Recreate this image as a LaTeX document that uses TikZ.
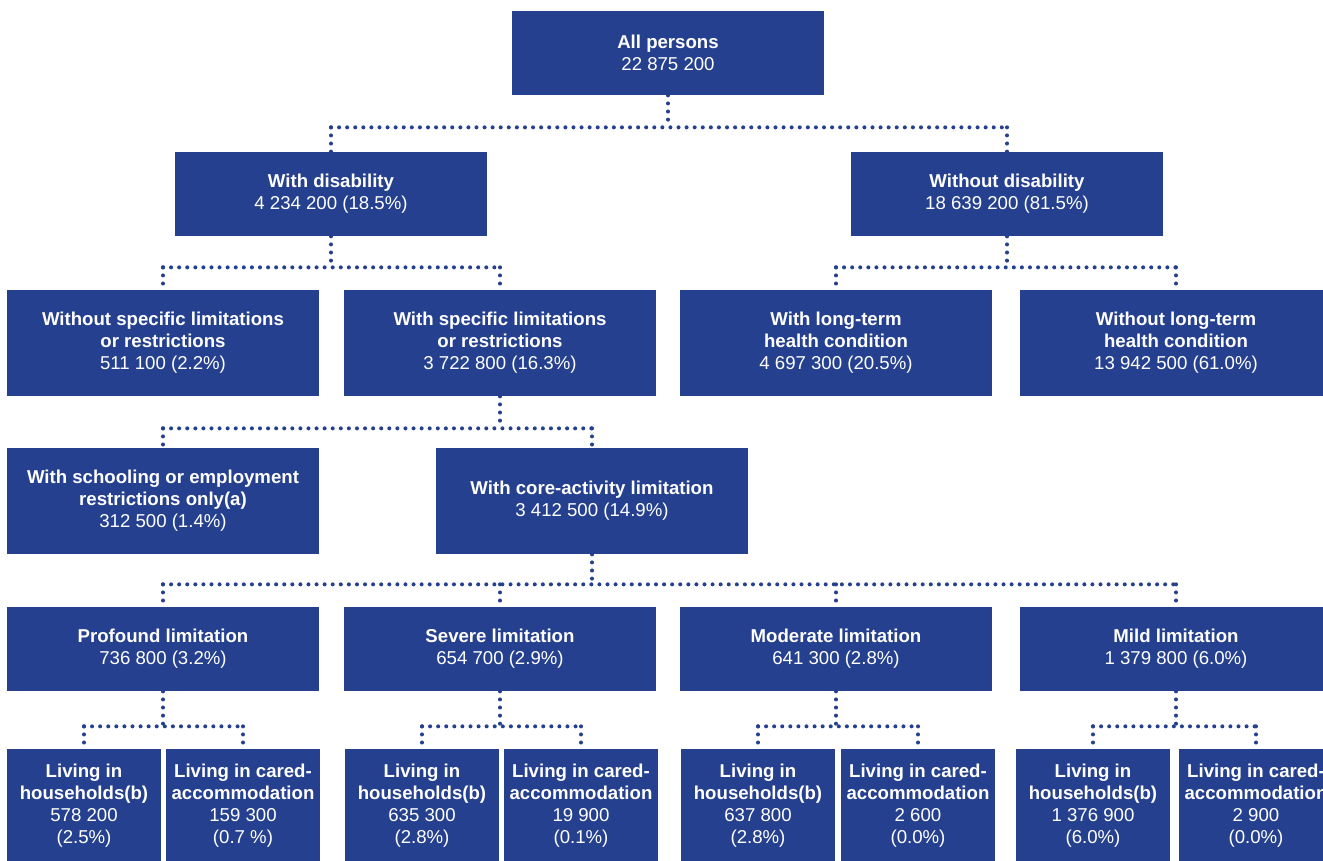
\documentclass[tikz,border=0pt]{standalone}
\usepackage{fontspec}
\setmainfont{Liberation Sans}
\definecolor{absblue}{RGB}{37,64,142}
\tikzset{
  box/.style={rectangle, fill=absblue, text=white, align=center, inner sep=0pt,
    font=\fontsize{10.6}{12.5}\selectfont},
  wide/.style={box, minimum width=6.24cm, minimum height=1.68cm},
  tall/.style={box, minimum width=6.24cm, minimum height=2.12cm},
  small/.style={box, minimum width=3.08cm, minimum height=2.28cm},
  dotline/.style={draw=absblue, line width=2.3pt, line cap=round,
    dash pattern=on 0pt off 4.6pt}
}
% parent -> bus -> children: #1 parent, #2 drop length, #3 leftmost child, #4 rightmost child
\newcommand{\busconn}[4]{%
  \draw[dotline] (#1.south) -- ++(0,#2) coordinate (#1-bus);
  \draw[dotline] (#3.north |- #1-bus) -- (#4.north |- #1-bus);
}
\newcommand{\dropto}[2]{%
  \draw[dotline] (#2.north |- #1-bus) -- (#2.north);
}
\begin{document}
\begin{tikzpicture}[x=0.02cm, y=-0.02cm]
\useasboundingbox (0,0) rectangle (1323,860);
\clip (0,0) rectangle (1323,860);

% level 0
\node[wide] (all) at (668,53) {\textbf{All persons}\\22 875 200};

% level 1
\node[wide] (wd)  at (331,194)  {\textbf{With disability}\\4 234 200 (18.5\%)};
\node[wide] (wod) at (1007,194) {\textbf{Without disability}\\18 639 200 (81.5\%)};

% level 2
\node[tall] (nospec) at (163,343) {\textbf{Without specific limitations}\\\textbf{or restrictions}\\511 100 (2.2\%)};
\node[tall] (spec)   at (500,343) {\textbf{With specific limitations}\\\textbf{or restrictions}\\3 722 800 (16.3\%)};
\node[tall] (ltc)    at (836,343) {\textbf{With long-term}\\\textbf{health condition}\\4 697 300 (20.5\%)};
\node[tall] (noltc)  at (1176,343) {\textbf{Without long-term}\\\textbf{health condition}\\13 942 500 (61.0\%)};

% level 3
\node[tall] (school) at (163,501) {\textbf{With schooling or employment}\\\textbf{restrictions only(a)}\\312 500 (1.4\%)};
\node[tall] (core)   at (592,501) {\textbf{With core-activity limitation}\\3 412 500 (14.9\%)};

% level 4
\node[wide] (prof) at (163,649)  {\textbf{Profound limitation}\\736 800 (3.2\%)};
\node[wide] (sev)  at (500,649)  {\textbf{Severe limitation}\\654 700 (2.9\%)};
\node[wide] (mod)  at (836,649)  {\textbf{Moderate limitation}\\641 300 (2.8\%)};
\node[wide] (mild) at (1176,649) {\textbf{Mild limitation}\\1 379 800 (6.0\%)};

% level 5
\node[small] (profh) at (84,806)   {\textbf{Living in}\\\textbf{households(b)}\\578 200\\(2.5\%)};
\node[small] (profc) at (243,806)  {\textbf{Living in cared-}\\\textbf{accommodation}\\159 300\\(0.7 \%)};
\node[small] (sevh)  at (422,806)  {\textbf{Living in}\\\textbf{households(b)}\\635 300\\(2.8\%)};
\node[small] (sevc)  at (581,806)  {\textbf{Living in cared-}\\\textbf{accommodation}\\19 900\\(0.1\%)};
\node[small] (modh)  at (758,806)  {\textbf{Living in}\\\textbf{households(b)}\\637 800\\(2.8\%)};
\node[small] (modc)  at (918,806)  {\textbf{Living in cared-}\\\textbf{accommodation}\\2 600\\(0.0\%)};
\node[small] (mildh) at (1093,806) {\textbf{Living in}\\\textbf{households(b)}\\1 376 900\\(6.0\%)};
\node[small] (mildc) at (1256,806) {\textbf{Living in cared-}\\\textbf{accommodation}\\2 900\\(0.0\%)};

% dotted connectors
\busconn{all}{32}{wd}{wod}
\dropto{all}{wd} \dropto{all}{wod}

\busconn{wd}{31}{nospec}{spec}
\dropto{wd}{nospec} \dropto{wd}{spec}

\busconn{wod}{31}{ltc}{noltc}
\dropto{wod}{ltc} \dropto{wod}{noltc}

\busconn{spec}{32}{school}{core}
\dropto{spec}{school} \dropto{spec}{core}

\busconn{core}{30}{prof}{mild}
\dropto{core}{prof} \dropto{core}{sev} \dropto{core}{mod} \dropto{core}{mild}

\foreach \p/\h/\c in {prof/profh/profc, sev/sevh/sevc, mod/modh/modc, mild/mildh/mildc}{
  \busconn{\p}{35}{\h}{\c}
  \dropto{\p}{\h} \dropto{\p}{\c}
}
\end{tikzpicture}
\end{document}
